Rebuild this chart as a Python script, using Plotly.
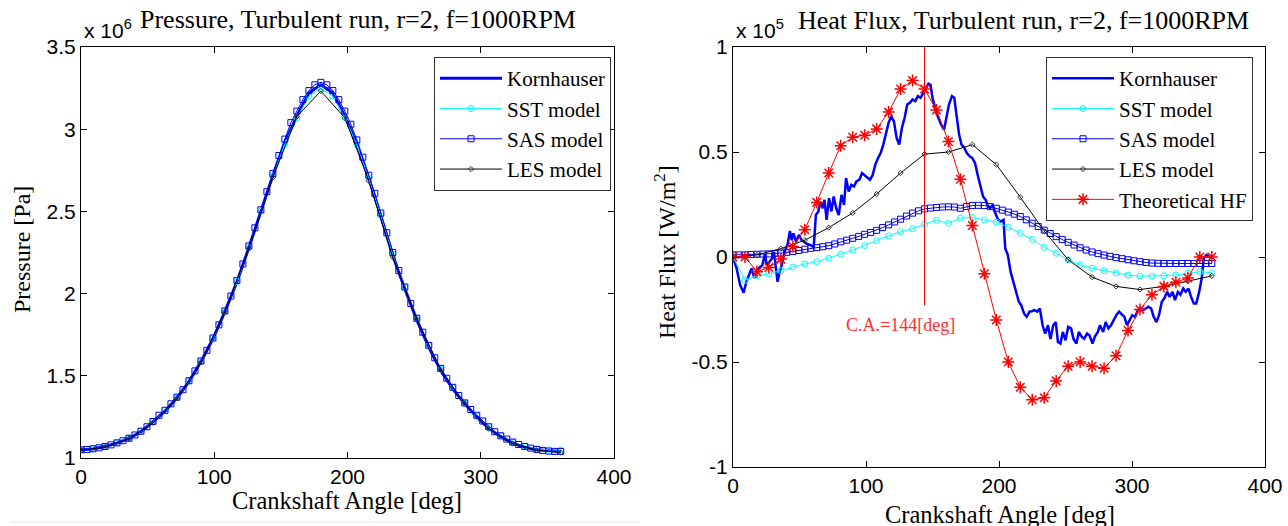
import plotly.graph_objects as go

# ---------------- data: pressure (x 1e6 Pa) ----------------
p_ang9 = [i * 9 for i in range(41)]
p_kornhauser = [1.05, 1.055, 1.07, 1.09, 1.12, 1.16, 1.22, 1.285, 1.365, 1.465, 1.585, 1.725, 1.89,
                2.07, 2.28, 2.50, 2.72, 2.92, 3.08, 3.22, 3.27, 3.22, 3.08, 2.91, 2.70, 2.47, 2.23,
                2.03, 1.84, 1.675, 1.53, 1.42, 1.33, 1.25, 1.18, 1.13, 1.09, 1.065, 1.05, 1.045, 1.04]
p_sst = [1.05, 1.056, 1.07, 1.092, 1.122, 1.163, 1.222, 1.288, 1.368, 1.468, 1.588, 1.728, 1.893,
         2.073, 2.28, 2.50, 2.715, 2.91, 3.07, 3.20, 3.25, 3.20, 3.07, 2.905, 2.70, 2.475, 2.24,
         2.04, 1.85, 1.685, 1.54, 1.43, 1.335, 1.255, 1.185, 1.135, 1.095, 1.07, 1.055, 1.05, 1.048]
p_ang45 = [i * 4.5 for i in range(81)]
p_sas = [1.05, 1.052, 1.056, 1.062, 1.07, 1.08, 1.092, 1.105, 1.12, 1.14, 1.163, 1.19, 1.222, 1.26,
         1.29, 1.33, 1.37, 1.415, 1.47, 1.53, 1.59, 1.655, 1.73, 1.81, 1.895, 1.985, 2.08, 2.18,
         2.29, 2.40, 2.51, 2.62, 2.73, 2.84, 2.94, 3.04, 3.11, 3.18, 3.235, 3.27, 3.285, 3.27,
         3.235, 3.18, 3.11, 3.03, 2.935, 2.83, 2.72, 2.61, 2.49, 2.37, 2.25, 2.14, 2.04, 1.94,
         1.85, 1.765, 1.685, 1.61, 1.545, 1.485, 1.43, 1.38, 1.335, 1.295, 1.26, 1.225, 1.19,
         1.16, 1.135, 1.115, 1.097, 1.082, 1.07, 1.06, 1.052, 1.046, 1.042, 1.04, 1.04]
p_ang18 = [i * 18 for i in range(21)]
p_les = [1.047, 1.067, 1.118, 1.214, 1.363, 1.582, 1.888, 2.275, 2.707, 3.077, 3.232, 3.069, 2.686,
         2.222, 1.845, 1.536, 1.332, 1.179, 1.088, 1.047, 1.033]

# ---------------- data: heat flux (x 1e5 W/m^2) ----------------
kh_angle = [0, 2.7, 5.4, 8, 10, 12, 14, 16, 18, 20, 22, 24, 25.4, 27.6, 29.4, 30.8, 32, 33.5, 34.8,
            36.7, 38.8, 41, 42.8, 44.2, 45.5, 47.4, 49.5, 51.6, 55, 59, 60.7, 62.3, 64.2, 65.6,
            67.4, 68.8, 70.4, 72.2, 74, 75.7, 77.6, 79.5, 81.6, 83.5, 85, 87, 89, 91, 92.8, 95, 97,
            99, 101, 103, 105, 107, 109, 111, 113, 115, 117, 119, 121, 123, 125, 127, 129, 131, 133,
            135, 137, 139, 141, 143, 145, 147, 148.5, 150, 152.5, 154.7, 156.5, 158.7, 160.5, 162.4,
            164.6, 166.4, 168, 170, 171.8, 174, 175.8, 178, 180, 182, 184, 186, 188, 190, 191.3,
            193.2, 195.3, 197.2, 199.4, 201.2, 203.4, 204.7, 206.6, 208.7, 210.6, 212.7, 214.9,
            216.7, 218.9, 220.8, 223, 224.8, 226.6, 228.8, 230.7, 232.8, 234.7, 236.8, 238.7, 240.8,
            242.7, 244.3, 246.2, 248, 250, 252, 254.2, 256, 258.2, 260, 262.2, 264, 266.2, 268,
            270.3, 272, 274.3, 276, 278.3, 280.2, 282.3, 284.2, 286.3, 288.2, 290.3, 292.2, 294.3,
            296.2, 298.4, 300.2, 302.4, 304.3, 306.4, 308.3, 310.4, 312.3, 314.4, 316.3, 318.4,
            320.3, 322.4, 324.3, 326.5, 328.3, 330.5, 332.3, 334.5, 336.4, 338.5, 340.4, 342.5,
            344.4, 346.5, 348.3, 350.5, 352.4, 354, 356, 357.8, 360]
kh_flux = [0, -0.054, -0.134, -0.17, -0.118, -0.086, -0.054, -0.10, -0.062, -0.05, -0.04, 0.013,
           -0.04, -0.022, -0.006, 0.025, -0.054, -0.118, -0.078, -0.038, 0.025, 0.06, 0.124, 0.08,
           0.113, 0.073, 0.105, 0.08, 0.065, 0.054, 0.045, 0.20, 0.217, 0.264, 0.232, 0.272, 0.177,
           0.28, 0.217, 0.288, 0.232, 0.20, 0.296, 0.248, 0.376, 0.312, 0.344, 0.336, 0.36, 0.368,
           0.40, 0.39, 0.376, 0.368, 0.39, 0.44, 0.47, 0.495, 0.535, 0.583, 0.64, 0.67, 0.646,
           0.567, 0.535, 0.615, 0.662, 0.726, 0.734, 0.75, 0.742, 0.766, 0.758, 0.78, 0.806, 0.825,
           0.82, 0.758, 0.694, 0.654, 0.63, 0.607, 0.662, 0.726, 0.766, 0.758, 0.678, 0.583, 0.535,
           0.519, 0.495, 0.479, 0.471, 0.447, 0.39, 0.344, 0.288, 0.272, 0.248, 0.232, 0.248,
           0.209, 0.177, 0.169, 0.177, 0.041, 0.01, -0.07, -0.118, -0.166, -0.213, -0.229, -0.27,
           -0.285, -0.26, -0.258, -0.253, -0.26, -0.245, -0.325, -0.365, -0.325, -0.39, -0.325,
           -0.31, -0.405, -0.412, -0.357, -0.397, -0.333, -0.34, -0.39, -0.412, -0.357, -0.38,
           -0.39, -0.365, -0.373, -0.412, -0.38, -0.357, -0.325, -0.357, -0.31, -0.34, -0.325,
           -0.30, -0.277, -0.26, -0.27, -0.285, -0.325, -0.30, -0.277, -0.285, -0.253, -0.242,
           -0.253, -0.245, -0.237, -0.245, -0.285, -0.31, -0.277, -0.213, -0.197, -0.166, -0.19,
           -0.166, -0.205, -0.166, -0.18, -0.15, -0.166, -0.15, -0.19, -0.221, -0.221, -0.166,
           -0.102, -0.006, 0.01, 0.002, -0.006]
hf_ang9 = [i * 9 for i in range(41)]
hf_sst = [0, -0.11, -0.09, -0.08, -0.065, -0.048, -0.033, -0.022, -0.006, 0.013, 0.033, 0.054,
          0.078, 0.10, 0.12, 0.135, 0.156, 0.175, 0.16, 0.185, 0.188, 0.177, 0.166, 0.142, 0.113,
          0.084, 0.046, 0.018, -0.014, -0.038, -0.054, -0.065, -0.076, -0.086, -0.091, -0.091,
          -0.089, -0.086, -0.078, -0.07, -0.075]
hf_ang45 = [i * 4.5 for i in range(81)]
hf_sas = [0.01, 0.01, 0.01, 0.012, 0.013, 0.014, 0.015, 0.017, 0.019, 0.022, 0.026, 0.031, 0.037,
          0.041, 0.045, 0.049, 0.054, 0.062, 0.072, 0.08, 0.089, 0.098, 0.108, 0.117, 0.127, 0.14,
          0.153, 0.167, 0.18, 0.195, 0.209, 0.22, 0.229, 0.233, 0.236, 0.238, 0.239, 0.238, 0.232,
          0.24, 0.245, 0.246, 0.245, 0.24, 0.232, 0.223, 0.214, 0.204, 0.193, 0.177, 0.161, 0.145,
          0.128, 0.112, 0.097, 0.083, 0.07, 0.057, 0.044, 0.033, 0.024, 0.016, 0.009, 0.003,
          -0.003, -0.008, -0.013, -0.018, -0.022, -0.026, -0.029, -0.03, -0.031, -0.031, -0.031,
          -0.031, -0.031, -0.031, -0.031, -0.031, -0.031]
hf_ang18 = [i * 18 for i in range(21)]
hf_les = [0, 0.01, 0.04, 0.08, 0.14, 0.21, 0.30, 0.40, 0.49, 0.50, 0.535, 0.44, 0.285, 0.124,
          -0.013, -0.096, -0.14, -0.155, -0.14, -0.115, -0.09]
hf_theory = [0, 0, -0.07, -0.05, -0.01, 0.05, 0.13, 0.26, 0.40, 0.53, 0.57, 0.58, 0.61, 0.69, 0.80,
             0.84, 0.80, 0.70, 0.55, 0.37, 0.15, -0.08, -0.30, -0.50, -0.62, -0.68, -0.67, -0.59,
             -0.52, -0.50, -0.52, -0.53, -0.47, -0.35, -0.25, -0.18, -0.14, -0.12, -0.10, 0.00, 0.00]
ca_angle = 144
ca_line_flux = [1.0, -0.23]

# ---------------- ticks / labels ----------------
x_ticks = [0, 100, 200, 300, 400]
p_ticks = [1, 1.5, 2, 2.5, 3, 3.5]
p_ticktext = ["1", "1.5", "2", "2.5", "3", "3.5"]
hf_ticks = [-1, -0.5, 0, 0.5, 1]
hf_ticktext = ["-1", "-0.5", "0", "0.5", "1"]

W, H = 1288, 526
SERIF = "Liberation Serif"
SANS = "Liberation Sans"
BLUE = "#0000FF"
CYAN = "#00FFFF"

fig = go.Figure()

# ---- left: pressure ----
fig.add_trace(go.Scatter(x=p_ang9, y=p_kornhauser, mode="lines", name="Kornhauser",
                         line=dict(color=BLUE, width=3), xaxis="x", yaxis="y", legend="legend"))
fig.add_trace(go.Scatter(x=p_ang9, y=p_sst, mode="lines+markers", name="SST model",
                         line=dict(color=CYAN, width=1),
                         marker=dict(symbol="circle-open", size=6, color=CYAN, line=dict(width=1)),
                         xaxis="x", yaxis="y", legend="legend"))
fig.add_trace(go.Scatter(x=p_ang45, y=p_sas, mode="lines+markers", name="SAS model",
                         line=dict(color=BLUE, width=1),
                         marker=dict(symbol="square-open", size=6, color=BLUE, line=dict(width=1)),
                         xaxis="x", yaxis="y", legend="legend"))
fig.add_trace(go.Scatter(x=p_ang18, y=p_les, mode="lines+markers", name="LES model",
                         line=dict(color="black", width=1),
                         marker=dict(symbol="diamond-open", size=4, color="#333333", line=dict(width=1)),
                         xaxis="x", yaxis="y", legend="legend"))

# ---- right: heat flux ----
fig.add_trace(go.Scatter(x=kh_angle, y=kh_flux, mode="lines", name="Kornhauser",
                         line=dict(color=BLUE, width=2.5), xaxis="x2", yaxis="y2", legend="legend2"))
fig.add_trace(go.Scatter(x=hf_ang9, y=hf_sst, mode="lines+markers", name="SST model",
                         line=dict(color=CYAN, width=1),
                         marker=dict(symbol="circle-open", size=6, color=CYAN, line=dict(width=1)),
                         xaxis="x2", yaxis="y2", legend="legend2"))
fig.add_trace(go.Scatter(x=hf_ang45, y=hf_sas, mode="lines+markers", name="SAS model",
                         line=dict(color=BLUE, width=1),
                         marker=dict(symbol="square-open", size=6, color=BLUE, line=dict(width=1)),
                         xaxis="x2", yaxis="y2", legend="legend2"))
fig.add_trace(go.Scatter(x=hf_ang18, y=hf_les, mode="lines+markers", name="LES model",
                         line=dict(color="black", width=1),
                         marker=dict(symbol="diamond-open", size=4, color="#333333", line=dict(width=1)),
                         xaxis="x2", yaxis="y2", legend="legend2"))
fig.add_trace(go.Scatter(x=hf_ang9, y=hf_theory, mode="lines+markers", name="Theoretical HF",
                         line=dict(color="red", width=1),
                         marker=dict(symbol="asterisk-open", size=10, color="red",
                                     line=dict(width=1.5, color="red")),
                         xaxis="x2", yaxis="y2", legend="legend2"))
fig.add_trace(go.Scatter(x=[ca_angle, ca_angle], y=ca_line_flux, mode="lines", showlegend=False,
                         line=dict(color="red", width=1), xaxis="x2", yaxis="y2", hoverinfo="skip"))

# ---- layout ----
def px_x(v):
    return v / W

def px_y(v):
    return 1 - v / H

axis_common = dict(showline=True, linecolor="black", linewidth=1, mirror="allticks",
                   ticks="inside", ticklen=6, tickcolor="black", showgrid=False, zeroline=False,
                   automargin=False,
                   tickfont=dict(family=SANS, size=21, color="black"))

legend_common = dict(xanchor="right", yanchor="top", bgcolor="white", bordercolor="#333333",
                     borderwidth=1, itemwidth=62, tracegroupgap=0,
                     font=dict(family=SERIF, size=21, color="black"))

fig.update_layout(
    template="none",
    width=W, height=H, margin=dict(l=0, r=0, t=0, b=0, autoexpand=False),
    paper_bgcolor="white", plot_bgcolor="white", showlegend=True,
    xaxis=dict(domain=[px_x(81), px_x(614)], range=[0, 400], tickvals=x_ticks, anchor="y",
               **axis_common),
    yaxis=dict(domain=[px_y(458), px_y(47)], range=[1, 3.5], tickvals=p_ticks,
               ticktext=p_ticktext, anchor="x", **axis_common),
    xaxis2=dict(domain=[px_x(733), px_x(1265)], range=[0, 400], tickvals=x_ticks, anchor="y2",
                **axis_common),
    yaxis2=dict(domain=[px_y(467), px_y(47)], range=[-1, 1], tickvals=hf_ticks,
                ticktext=hf_ticktext, anchor="x2", **axis_common),
    legend=dict(x=px_x(611), y=px_y(57), **legend_common),
    legend2=dict(x=px_x(1253), y=px_y(57), **legend_common),
)

def note(text, x, y, size, family=SERIF, color="black", angle=0, xanchor="center",
         yanchor="middle"):
    return dict(text=text, x=px_x(x), y=px_y(y), xref="paper", yref="paper", showarrow=False,
                xanchor=xanchor, yanchor=yanchor, textangle=angle,
                font=dict(family=family, size=size, color=color))

ann = [
    note("Pressure, Turbulent run, r=2, f=1000RPM", 358, 19, 26),
    note("Heat Flux, Turbulent run, r=2, f=1000RPM", 1024, 21, 26),
    note("x 10<sup>6</sup>", 82, 44, 21, family=SANS, xanchor="left", yanchor="bottom"),
    note("x 10<sup>5</sup>", 734, 44, 21, family=SANS, xanchor="left", yanchor="bottom"),
    note("Crankshaft Angle [deg]", 347, 500, 24.5),
    note("Crankshaft Angle [deg]", 1000, 514, 24.5),
    note("Pressure [Pa]", 22, 250, 24, angle=-90),
    note("Heat Flux [W/m<sup>2</sup>]", 665, 252, 24, angle=-90),
    dict(text="C.A.=144[deg]", x=126, y=-0.325, xref="x2", yref="y2", showarrow=False,
         xanchor="center", yanchor="middle",
         font=dict(family=SERIF, size=18, color="#FF3030")),
]
fig.update_layout(annotations=ann)

# faint frame line at bottom of left panel
fig.add_shape(type="line", xref="paper", yref="paper", x0=px_x(10), x1=px_x(640),
              y0=px_y(522), y1=px_y(522), line=dict(color="#e6e6e6", width=1))

# remove the default 8px page margin so the figure fills the window exactly
fig.write_html("out.html", config={"displayModeBar": False},
               post_script="document.body.style.margin='0';"
                           "document.body.style.overflow='hidden';")
